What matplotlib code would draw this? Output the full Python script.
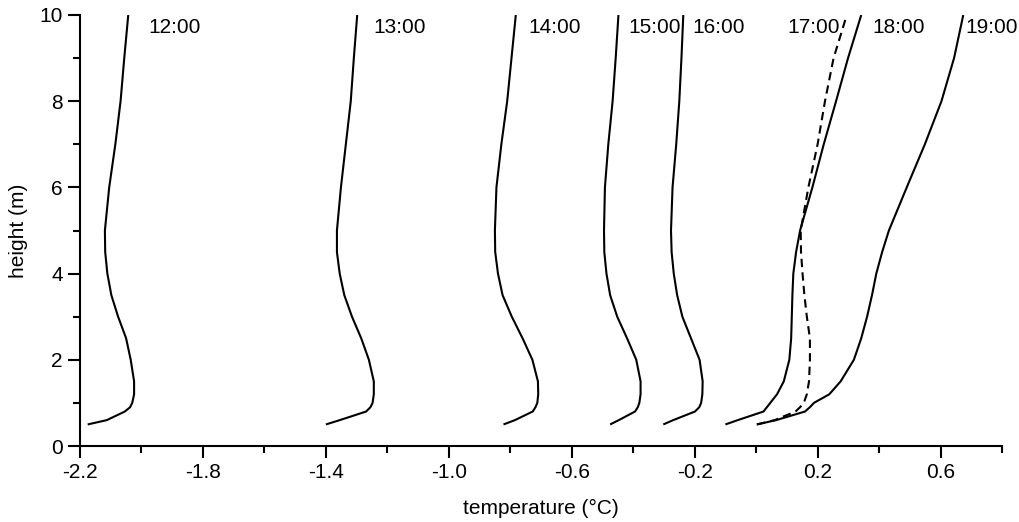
import matplotlib
matplotlib.use("Agg")
import matplotlib.pyplot as plt

plt.rcParams['font.family'] = ['Liberation Sans', 'DejaVu Sans']
plt.rcParams['axes.unicode_minus'] = False

# heights where the profiles were read (m)
heights = [0.5, 0.6, 0.8, 0.9, 1.0, 1.2, 1.5, 2.0, 2.5, 3.0, 3.5,
           4.0, 4.5, 5.0, 6.0, 7.0, 8.0, 9.0, 10.0]

# temperature profiles (deg C)
t_1200 = [-2.175, -2.113, -2.054, -2.037, -2.030, -2.024, -2.024, -2.035, -2.050, -2.076,
          -2.098, -2.111, -2.118, -2.119, -2.105, -2.085, -2.068, -2.056, -2.043]
t_1300 = [-1.400, -1.355, -1.269, -1.255, -1.248, -1.244, -1.244, -1.260, -1.285, -1.315,
          -1.340, -1.355, -1.364, -1.364, -1.351, -1.335, -1.319, -1.309, -1.298]
t_1400 = [-0.822, -0.785, -0.727, -0.718, -0.712, -0.709, -0.710, -0.728, -0.760, -0.795,
          -0.825, -0.840, -0.849, -0.850, -0.845, -0.829, -0.810, -0.796, -0.782]
t_1500 = [-0.475, -0.447, -0.394, -0.385, -0.380, -0.376, -0.376, -0.390, -0.420, -0.452,
          -0.475, -0.487, -0.494, -0.495, -0.492, -0.481, -0.467, -0.457, -0.448]
t_1600 = [-0.302, -0.270, -0.199, -0.185, -0.179, -0.175, -0.174, -0.184, -0.212, -0.240,
          -0.257, -0.268, -0.275, -0.277, -0.272, -0.260, -0.250, -0.243, -0.237]
t_1700 = [0.003, 0.060, 0.128, 0.143, 0.155, 0.165, 0.172, 0.175, 0.175, 0.165,
          0.157, 0.151, 0.146, 0.145, 0.170, 0.200, 0.224, 0.252, 0.295]
t_1800 = [-0.100, -0.060, 0.024, 0.035, 0.046, 0.068, 0.090, 0.108, 0.114, 0.116,
          0.118, 0.121, 0.130, 0.143, 0.183, 0.220, 0.260, 0.299, 0.342]
t_1900 = [0.002, 0.065, 0.159, 0.175, 0.188, 0.238, 0.275, 0.318, 0.342, 0.361,
          0.377, 0.391, 0.410, 0.432, 0.490, 0.549, 0.603, 0.644, 0.674]

# time labels and where they sit
time_labels = ['12:00', '13:00', '14:00', '15:00', '16:00', '17:00', '18:00', '19:00']
label_x = [-1.979, -1.247, -0.742, -0.417, -0.208, 0.101, 0.377, 0.680]
label_y = 9.70

x_ticks = [-2.2, -1.8, -1.4, -1.0, -0.6, -0.2, 0.2, 0.6]
x_tick_labels = ['-2.2', '-1.8', '-1.4', '-1.0', '-0.6', '-0.2', '0.2', '0.6']
x_minor = [-2.0, -1.6, -1.2, -0.8, -0.4, 0.0, 0.4, 0.8]
y_ticks = [0, 2, 4, 6, 8, 10]
y_minor = [1, 3, 5, 7, 9]

fig = plt.figure(figsize=(10.2, 5.22), dpi=100)
ax = fig.add_axes([80 / 1020, 76 / 522, 922 / 1020, 431 / 522])

lw = 1.5
for t in [t_1200, t_1300, t_1400, t_1500, t_1600, t_1800, t_1900]:
    ax.plot(t, heights, color='black', lw=lw, solid_capstyle='butt')
ax.plot(t_1700, heights, color='black', lw=lw, linestyle=(0, (4, 2.5)))

for lab, lx in zip(time_labels, label_x):
    ax.text(lx, label_y, lab, fontsize=15, ha='left', va='center')

ax.set_xlim(-2.2, 0.8)
ax.set_ylim(0, 10)
ax.set_xticks(x_ticks)
ax.set_xticklabels(x_tick_labels)
ax.set_xticks(x_minor, minor=True)
ax.set_yticks(y_ticks)
ax.set_yticks(y_minor, minor=True)

for side in ['top', 'right']:
    ax.spines[side].set_visible(False)
for side in ['left', 'bottom']:
    ax.spines[side].set_linewidth(1.5)

ax.tick_params(which='major', direction='out', length=8.5, width=1.5, labelsize=15, pad=4)
ax.tick_params(which='minor', direction='out', length=5, width=1.5)

ax.set_xlabel('temperature (°C)', fontsize=15, labelpad=12)
ax.set_ylabel('height (m)', fontsize=15, labelpad=8)

fig.savefig('out.png', dpi=100)
